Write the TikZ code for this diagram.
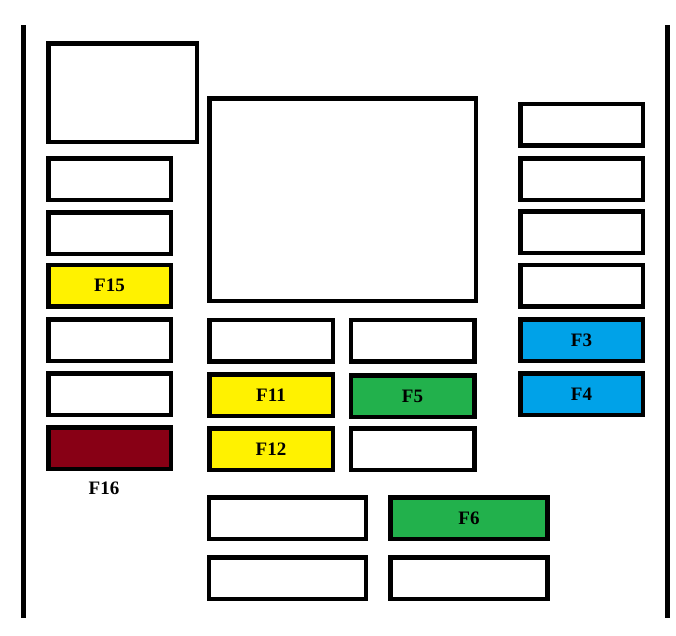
\documentclass[tikz,border=0pt]{standalone}
\usepackage{fontspec}
\setmainfont{Liberation Serif}
\usetikzlibrary{positioning}

\definecolor{fuseyellow}{HTML}{FFF200}
\definecolor{fusered}{HTML}{880015}
\definecolor{fuseblue}{HTML}{00A2E8}
\definecolor{fusegreen}{HTML}{22B14C}

\begin{document}
\begin{tikzpicture}[x=1pt,y=-1pt,
  fuse/.style={draw=black, line width=4.5pt, fill=white, inner sep=0pt,
    minimum width=122.5pt, minimum height=41.5pt,
    font=\fontsize{19}{19}\selectfont\bfseries},
  widefuse/.style={fuse, minimum width=157pt},
  label/.style={inner sep=0pt, font=\fontsize{19}{19}\selectfont\bfseries},
  rail/.style={line width=5pt}]
\useasboundingbox (0,0) rectangle (676,635);
% side rails
\coordinate (railLtop) at (23.5,25);
\coordinate (railLbot) at (23.5,618);
\coordinate (railRtop) at (667,25);
\coordinate (railRbot) at (667,618);
\draw [rail] (railLtop) -- (railLbot);
\draw [rail] (railRtop) -- (railRbot);
% left column
\node [fuse, minimum width=148.5pt, minimum height=98.5pt] (relayL) at (122.5,92.5) {};
\node [fuse] (left1) at (109.5,179) {};
\node [fuse] (left2) at (109.5,233) {};
\node [fuse, fill=fuseyellow] (f15) at (109.5,285.5) {F15};
\node [fuse] (left4) at (109.5,340) {};
\node [fuse] (left5) at (109.5,394) {};
\node [fuse, fill=fusered] (f16) at (109.5,448) {};
\node [label] (f16label) at (104,488) {F16};
% centre block
\node [fuse, minimum width=266.5pt, minimum height=202.5pt] (relayC) at (342.5,199.5) {};
\node [fuse, minimum width=123.5pt] (midA1) at (271,340.5) {};
\node [fuse, minimum width=123.5pt, fill=fuseyellow] (f11) at (271,395) {F11};
\node [fuse, minimum width=123.5pt, fill=fuseyellow] (f12) at (271,449) {F12};
\node [fuse, minimum width=123.5pt] (midB1) at (412.5,340.5) {};
\node [fuse, minimum width=123.5pt, fill=fusegreen] (f5) at (412.5,396) {F5};
\node [fuse, minimum width=123.5pt] (midB3) at (412.5,449) {};
% bottom rows
\node [widefuse] (bottomA1) at (287.5,518) {};
\node [widefuse] (bottomA2) at (287.5,578) {};
\node [widefuse, fill=fusegreen] (f6) at (469,518) {F6};
\node [widefuse] (bottomB2) at (469,578) {};
% right column
\node [fuse] (right1) at (581.5,124.5) {};
\node [fuse] (right2) at (581.5,179) {};
\node [fuse] (right3) at (581.5,232) {};
\node [fuse] (right4) at (581.5,285.5) {};
\node [fuse, fill=fuseblue] (f3) at (581.5,340) {F3};
\node [fuse, fill=fuseblue] (f4) at (581.5,394) {F4};
\end{tikzpicture}
\end{document}
